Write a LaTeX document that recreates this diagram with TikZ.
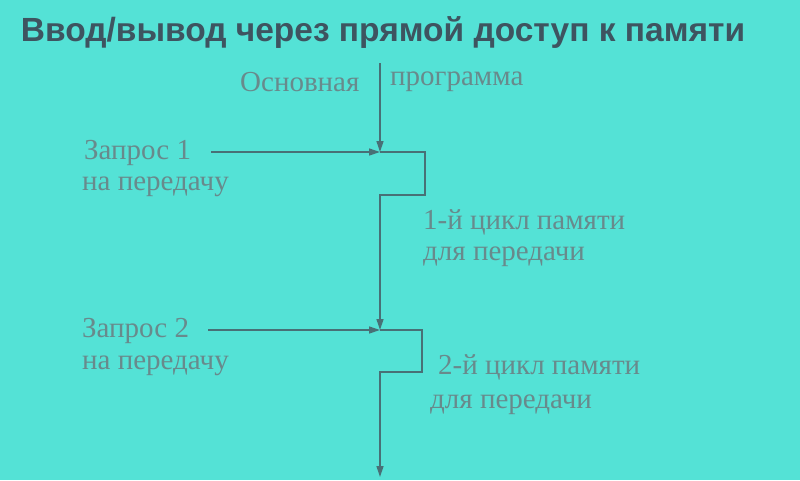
\documentclass[tikz,border=0pt]{standalone}
\usepackage{fontspec}
\setmainfont{Liberation Serif}
\newfontfamily\titlefont{Liberation Sans}
\usetikzlibrary{arrows.meta}
\definecolor{bg}{RGB}{84,226,214}
\definecolor{lbl}{RGB}{104,138,140}
\definecolor{ln}{RGB}{72,112,118}
\definecolor{ttl}{RGB}{62,84,96}
\tikzset{
  lab/.style={text=lbl, font=\fontsize{29}{35}\selectfont, inner sep=0pt, anchor=west},
  conn/.style={draw=ln, line width=1.3pt},
  arr/.style={conn, -{Triangle[length=11pt,width=7pt]}},
}
\begin{document}
\begin{tikzpicture}[x=1pt,y=-1pt]
\fill[bg] (0,0) rectangle (800,480);
\useasboundingbox (0,0) rectangle (800,480);
\node[text=ttl, font=\titlefont\bfseries\fontsize{33.5}{40}\selectfont, inner sep=0pt] (title) at (383,33) {Ввод/вывод через прямой доступ к памяти};
\node[lab] (osn) at (240,82) {Основная};
\node[lab] (prog) at (390,82) {программа};
\node[lab] (z1) at (84,153) {Запрос 1};
\node[lab] (n1) at (82,187) {на передачу};
\node[lab] (c1) at (423,222) {1-й цикл памяти};
\node[lab] (d1) at (423,257) {для передачи};
\node[lab] (z2) at (82,331) {Запрос 2};
\node[lab] (n2) at (82,366) {на передачу};
\node[lab] (c2) at (438,367) {2-й цикл памяти};
\node[lab] (d2) at (430,405) {для передачи};
\coordinate (top) at (380,63);
\coordinate (j1) at (380,152);
\coordinate (s1) at (211,152);
\coordinate (j2) at (380,330);
\coordinate (s2) at (208,330);
\coordinate (bot) at (380,477);
\draw[arr] (top) -- (j1);
\draw[arr] (s1) -- (j1);
\draw[arr] (j1) -- (425,152) -- (425,195) -- (380,195) -- (j2);
\draw[arr] (s2) -- (j2);
\draw[arr] (j2) -- (422,330) -- (422,372) -- (380,372) -- (bot);
\end{tikzpicture}
\end{document}
